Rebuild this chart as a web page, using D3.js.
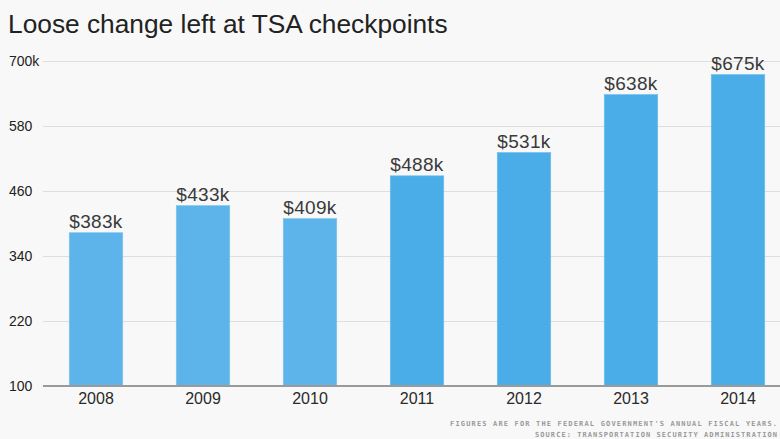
<!DOCTYPE html>
<html>
<head>
<meta charset="utf-8">
<script src="https://cdn.jsdelivr.net/npm/d3@7"></script>
<style>
  html, body { margin: 0; padding: 0; background: #f8f8f8; }
  svg { display: block; }
</style>
</head>
<body>
<svg id="chart" width="780" height="439"></svg>
<script>
const years = ["2008", "2009", "2010", "2011", "2012", "2013", "2014"];
const values = [383, 433, 409, 488, 531, 638, 675];
const valueLabels = ["$383k", "$433k", "$409k", "$488k", "$531k", "$638k", "$675k"];
const yTicks = [100, 220, 340, 460, 580, 700];
const yTickLabels = ["100", "220", "340", "460", "580", "700k"];
const lighterYears = ["2008", "2009", "2010"];
const title = "Loose change left at TSA checkpoints";
const notes = ["FIGURES ARE FOR THE FEDERAL GOVERNMENT'S ANNUAL FISCAL YEARS.",
               "SOURCE: TRANSPORTATION SECURITY ADMINISTRATION"];

const svg = d3.select("#chart");
const W = 780, H = 439;
svg.append("rect").attr("width", W).attr("height", H).attr("fill", "#f8f8f8");

const x = d3.scaleBand().domain(years).range([42.5, 791.5]).paddingInner(0.5).paddingOuter(0.25);
const y = d3.scaleLinear().domain([100, 700]).range([386, 61]);

const font = "'Liberation Sans', Helvetica, Arial, sans-serif";

// title
svg.append("text").attr("x", 8).attr("y", 33)
  .attr("font-family", font).attr("font-size", 26.3).attr("fill", "#222")
  .text(title);

// grid
const grid = svg.append("g");
grid.selectAll("line").data(yTicks.filter(d => d !== 100)).join("line")
  .attr("x1", 43).attr("x2", W)
  .attr("y1", d => Math.round(y(d)) + 0.5).attr("y2", d => Math.round(y(d)) + 0.5)
  .attr("stroke", "#dedede").attr("stroke-width", 1);

// y tick labels
svg.append("g").selectAll("text").data(yTicks).join("text")
  .attr("x", 9).attr("y", d => y(d)).attr("dy", "0.35em")
  .attr("font-family", font).attr("font-size", 14).attr("fill", "#222")
  .text((d, i) => yTickLabels[i]);

// bars
svg.append("g").selectAll("rect").data(years).join("rect")
  .attr("x", d => x(d)).attr("width", x.bandwidth())
  .attr("y", (d, i) => y(values[i])).attr("height", (d, i) => y(100) - y(values[i]))
  .attr("fill", d => lighterYears.includes(d) ? "#5db4ea" : "#4aade8")
  .attr("stroke", d => lighterYears.includes(d) ? "#7cc3ee" : "#6bbbec").attr("stroke-width", 0.6);

// value labels
svg.append("g").selectAll("text").data(years).join("text")
  .attr("x", d => x(d) + x.bandwidth() / 2)
  .attr("y", (d, i) => y(values[i]) - 5)
  .attr("text-anchor", "middle")
  .attr("font-family", font).attr("font-size", 19).attr("letter-spacing", 0.3)
  .attr("fill", "#3a3a3a")
  .text((d, i) => valueLabels[i]);

// x axis baseline
svg.append("line").attr("x1", 43).attr("x2", W).attr("y1", 386).attr("y2", 386)
  .attr("stroke", "#9a9a9a").attr("stroke-width", 2);

// x labels
svg.append("g").selectAll("text").data(years).join("text")
  .attr("x", d => x(d) + x.bandwidth() / 2).attr("y", 404)
  .attr("text-anchor", "middle")
  .attr("font-family", font).attr("font-size", 16).attr("fill", "#2a2a2a")
  .text(d => d);

// notes
const noteX = [[450, 777], [535, 777]];
svg.append("g").selectAll("text").data(notes).join("text")
  .attr("x", (d, i) => noteX[i][0]).attr("y", (d, i) => 426 + i * 11)
  .attr("textLength", (d, i) => noteX[i][1] - noteX[i][0])
  .attr("lengthAdjust", "spacing")
  .attr("font-family", "'DejaVu Sans Mono', monospace").attr("font-size", 7)
  .attr("font-weight", "bold")
  .attr("fill", "#9a9a9a")
  .text(d => d);
</script>
</body>
</html>
